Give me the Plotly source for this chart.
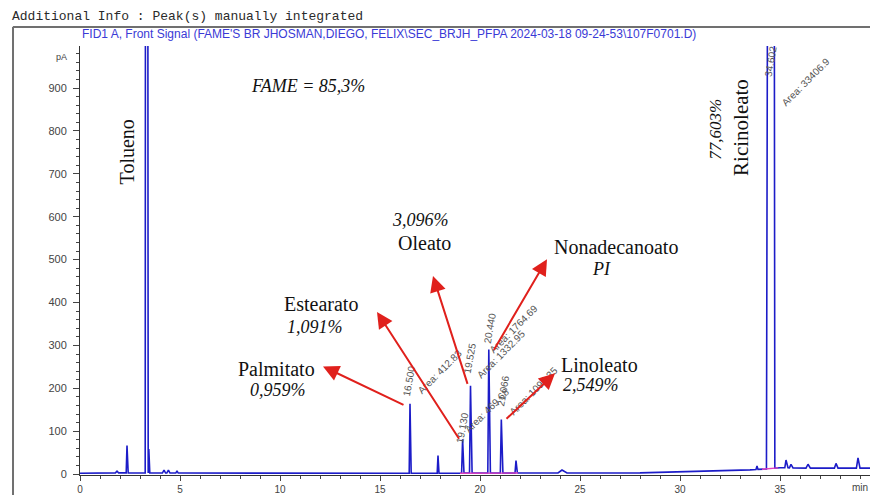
import numpy as np
import plotly.graph_objects as go

# ---- FID1 A chromatogram: peak table ----------------------------------
peak_rt     = [1.85, 2.35, 3.32, 3.44, 4.20, 4.42, 4.85, 16.500, 17.90, 19.130,
               19.525, 20.440, 21.066, 21.80, 24.10, 33.85, 34.602, 35.30, 35.55,
               36.40, 37.80, 38.90]
peak_height = [4, 64, 6000, 56, 7, 7, 5, 162, 41, 79,
               204, 288, 125, 29, 7, 8, 6000, 18, 8,
               9, 11, 24]
peak_left   = [0.08, 0.04, 0.06, 0.03, 0.08, 0.08, 0.06, 0.04, 0.04, 0.05,
               0.05, 0.05, 0.05, 0.05, 0.20, 0.05, 0.28, 0.06, 0.08,
               0.10, 0.08, 0.08]
peak_right  = [0.08, 0.06, 0.07, 0.05, 0.08, 0.08, 0.06, 0.06, 0.05, 0.07,
               0.08, 0.08, 0.08, 0.07, 0.25, 0.05, 0.14, 0.10, 0.10,
               0.12, 0.10, 0.10]

# detector baseline drift (min, pA)
base_t = [0, 1.5, 5, 16, 22, 28, 30, 32, 33.5, 34.3, 35.0, 36.5, 39.6]
base_v = [2, 3, 2.5, 2, 2.5, 3, 5, 7, 10, 12, 15, 14, 14]

# manual integration baselines (start, end) in min
integ_start = [19.0, 34.1]
integ_end   = [21.9, 34.9]

# labelled peaks: retention time text and area text
label_rt   = ["16.500", "19.130", "19.525", "20.440", "21.066", "34.602"]
label_area = ["Area: 412.83", "Area: 469.68", "Area: 1332.95",
              "Area: 1764.69", "Area: 1097.35", "Area: 33406.9"]

# compound names and composition
names    = ["Palmitato", "Estearato", "Oleato", "Nonadecanoato", "Linoleato"]
percents = ["0,959%", "1,091%", "3,096%", "PI", "2,549%"]

# axis ticks
y_ticks = list(range(0, 1000, 100))
x_ticks = list(range(0, 40, 5))


def baseline(t):
    return float(np.interp(t, base_t, base_v))


# assemble the detector trace from baseline knots and peak vertices
pts = []
for t, v in zip(base_t, base_v):
    inside = any(rt - l <= t <= rt + r for rt, l, r in zip(peak_rt, peak_left, peak_right))
    if not inside:
        pts.append((t, v))
for rt, h, l, r in zip(peak_rt, peak_height, peak_left, peak_right):
    pts.append((rt - l, baseline(rt - l)))
    pts.append((rt, baseline(rt) + h))
    pts.append((rt + r, baseline(rt + r)))
pts.sort(key=lambda p: p[0])
sig_x = [p[0] for p in pts]
sig_y = [p[1] for p in pts]

fig = go.Figure()
fig.add_trace(go.Scatter(x=sig_x, y=sig_y, mode="lines",
                         line=dict(color="#1c1cc8", width=1.6),
                         hoverinfo="skip", showlegend=False))
for s, e in zip(integ_start, integ_end):
    fig.add_trace(go.Scatter(x=[s, e], y=[baseline(s), baseline(e)], mode="lines",
                             line=dict(color="#e040c0", width=1.4),
                             hoverinfo="skip", showlegend=False))

serif = "Liberation Serif, Times New Roman, serif"
sans = "Liberation Sans, Arial, sans-serif"
ann = []

# retention time + area labels
rt_pos   = [(16.45, 216), (19.10, 107), (19.50, 269), (20.50, 339), (21.15, 193), (34.55, 961)]
area_pos = [(18.00, 239), (20.35, 149), (21.05, 278), (21.65, 338), (22.65, 193), (36.25, 914)]
for txt, (x, y) in zip(label_rt, rt_pos):
    ann.append(dict(x=x, y=y, text=txt, showarrow=False, textangle=-80,
                    font=dict(family=sans, size=10, color="#555555"),
                    xanchor="center", yanchor="middle"))
for txt, (x, y) in zip(label_area, area_pos):
    ann.append(dict(x=x, y=y, text=txt, showarrow=False, textangle=-45,
                    font=dict(family=sans, size=10, color="#555555"),
                    xanchor="center", yanchor="middle"))

# red pointer arrows (tail near the peak, head at the compound name)
arrow_tail = [(16.25, 160), (19.0, 79), (19.4, 207), (20.65, 286), (21.25, 126)]
arrow_head = [(12.15, 251), (14.85, 378), (17.65, 462), (23.35, 501), (23.75, 235)]
for (tx, ty), (hx, hy) in zip(arrow_tail, arrow_head):
    ann.append(dict(x=hx, y=hy, ax=tx, ay=ty, axref="x", ayref="y",
                    text="", showarrow=True, arrowhead=2, arrowsize=1.6,
                    arrowwidth=2, arrowcolor="#e0201c"))

name_pos = [(9.8, 244), (12.05, 397), (17.2, 539), (26.8, 529), (25.95, 255)]
pct_pos  = [(9.9, 195), (11.75, 344), (17.0, 592), (26.05, 478), (25.55, 207)]
for txt, (x, y) in zip(names, name_pos):
    ann.append(dict(x=x, y=y, text=txt, showarrow=False,
                    font=dict(family=serif, size=20, color="#111111"),
                    xanchor="center", yanchor="middle"))
for txt, (x, y) in zip(percents, pct_pos):
    ann.append(dict(x=x, y=y, text="<i>" + txt + "</i>", showarrow=False,
                    font=dict(family=serif, size=18, color="#111111"),
                    xanchor="center", yanchor="middle"))

ann += [
    dict(x=11.4, y=905, text="<i>FAME = 85,3%</i>", showarrow=False,
         font=dict(family=serif, size=18, color="#111111")),
    dict(x=2.35, y=750, text="Tolueno", showarrow=False, textangle=-90,
         font=dict(family=serif, size=20, color="#111111")),
    dict(x=31.8, y=803, text="<i>77,603%</i>", showarrow=False, textangle=-90,
         font=dict(family=serif, size=17, color="#111111")),
    dict(x=33.05, y=807, text="Ricinoleato", showarrow=False, textangle=-90,
         font=dict(family=serif, size=21, color="#111111")),
    # report header and signal description
    dict(xref="paper", yref="paper", x=-0.0886, y=1.0696, xanchor="left", yanchor="middle",
         text="Additional Info : Peak(s) manually integrated", showarrow=False,
         font=dict(family="Liberation Mono, Courier New, monospace", size=13, color="#2a2a2a")),
    dict(xref="paper", yref="paper", x=0.391, y=1.028, xanchor="center", yanchor="middle",
         text="FID1 A, Front Signal (FAME'S BR JHOSMAN,DIEGO, FELIX\\SEC_BRJH_PFPA 2024-03-18 09-24-53\\107F0701.D)",
         showarrow=False, font=dict(family=sans, size=12, color="#3a3ad6")),
    dict(xref="paper", yref="paper", x=-0.0228, y=0.9745, xanchor="center", yanchor="middle",
         text="pA", showarrow=False, font=dict(family=sans, size=9, color="#444444")),
    dict(xref="paper", yref="paper", x=1.0, y=-0.03, xanchor="right", yanchor="middle",
         text="min", showarrow=False, font=dict(family=sans, size=10, color="#444444")),
]

shapes = [
    dict(type="line", xref="paper", yref="paper", x0=-0.085, x1=1.02, y0=1.0441, y1=1.0441,
         line=dict(color="#707070", width=2)),
    dict(type="line", xref="paper", yref="paper", x0=-0.0848, x1=-0.0848, y0=1.0441, y1=-0.06,
         line=dict(color="#707070", width=2)),
]

fig.update_layout(
    width=870, height=495,
    margin=dict(l=80, r=0, t=46, b=18),
    paper_bgcolor="white", plot_bgcolor="white",
    annotations=ann, shapes=shapes,
    xaxis=dict(range=[0, 39.5], tickvals=x_ticks, ticks="outside", ticklen=5,
               tickcolor="#444444", showline=True, linecolor="#333333", linewidth=1,
               showgrid=False, zeroline=False,
               tickfont=dict(family=sans, size=10, color="#444444"),
               minor=dict(dtick=1, ticks="outside", ticklen=3, tickcolor="#444444")),
    yaxis=dict(range=[-2, 998], tickvals=y_ticks, ticks="outside", ticklen=6,
               ticklabelstandoff=4,
               tickcolor="#444444", showline=True, linecolor="#333333", linewidth=1,
               showgrid=False, zeroline=False,
               tickfont=dict(family=sans, size=11, color="#444444"),
               minor=dict(dtick=20, ticks="outside", ticklen=3, tickcolor="#444444")),
)

fig.write_html("out.html")
